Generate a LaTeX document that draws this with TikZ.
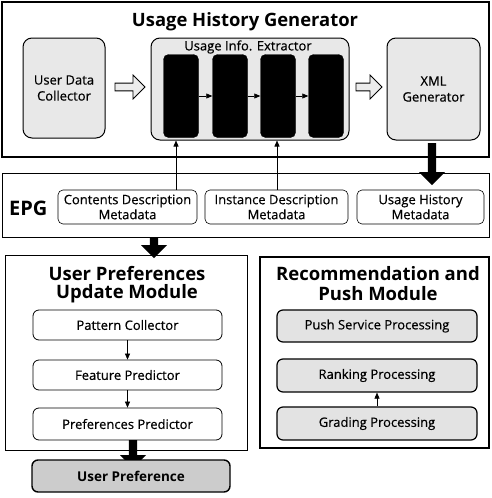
\documentclass[tikz,border=0pt]{standalone}
\usepackage{fontspec}
\setmainfont{Open Sans}
\newfontfamily\lblfont[FakeBold=0.5]{Open Sans}
\usetikzlibrary{shapes.arrows,arrows.meta}

\begin{document}
\begin{tikzpicture}[x=1pt,y=1pt,
  frame/.style={draw,line width=1.3pt,minimum width=#1,inner sep=0pt},
  blk/.style={draw,rounded corners=9pt,line width=1pt,fill=gray!18,align=center,
    font=\lblfont\fontsize{13}{16}\selectfont,inner sep=0pt},
  meta/.style={draw,rounded corners=5pt,line width=0.6pt,align=center,
    font=\lblfont\fontsize{13}{15}\selectfont,inner sep=0pt},
  proc/.style={draw,rounded corners=6pt,line width=0.8pt,
    font=\lblfont\fontsize{13}{15}\selectfont,inner sep=0pt},
  bar/.style={draw,fill=black,rounded corners=5pt,minimum width=35pt,minimum height=83pt},
  ttl/.style={font=\bfseries\fontsize{#1}{#1}\selectfont,inner sep=0pt},
  hollow/.style={single arrow,draw,line width=0.8pt,fill=gray!15,minimum height=#1,
    minimum width=24pt,single arrow head extend=5pt,inner sep=2pt},
  fat/.style={single arrow,fill=black,minimum height=#1,minimum width=26pt,
    single arrow head extend=7pt,inner sep=3pt,shape border rotate=270},
  thin/.style={-{Triangle[length=6pt,width=5pt]},line width=0.6pt}]
\useasboundingbox (0,0) rectangle (491,-498);

% usage history generator
\node[frame=487pt,minimum height=155pt] (ugen) at (245.5,-79.5) {};
\node[ttl=18.4] (ugent) at (245,-22) {Usage History Generator};
\node[blk,minimum width=82pt,minimum height=100pt] (udc) at (64,-88) {User Data\\Collector};
\node[blk,minimum width=198pt,minimum height=102pt] (uie) at (250,-89) {};
\node[font=\lblfont\fontsize{13}{15}\selectfont] (uiet) at (248,-47) {Usage Info. Extractor};
\node[blk,minimum width=93pt,minimum height=102pt] (xml) at (433.5,-89) {XML\\Generator};
\foreach \i/\x in {1/181,2/230,3/278,4/326}
  \node[bar] (b\i) at (\x,-96) {};
\draw[thin] (b1) -- (b2);
\draw[thin] (b2) -- (b3);
\draw[thin] (b3) -- (b4);
\node[hollow=30pt] (h1) at (128,-87) {};
\node[hollow=26pt] (h2) at (367,-87) {};

% EPG
\node[frame=487pt,minimum height=64pt,line width=0.8pt] (epg) at (245.5,-205) {};
\node[ttl=20,anchor=west] (epgt) at (9,-208) {EPG};
\node[meta,minimum width=139pt,minimum height=34pt] (cdm) at (127.5,-207) {Contents Description\\Metadata};
\node[meta,minimum width=143pt,minimum height=34pt] (idm) at (276.5,-207) {Instance Description\\Metadata};
\node[meta,minimum width=127pt,minimum height=34pt] (uhm) at (420.5,-207) {Usage History\\Metadata};
\draw[thin] (cdm.north -| 176,0) -- (uie.south -| 176,0);
\draw[thin] (idm.north -| 277,0) -- (uie.south -| 277,0);
\node[fat=42pt] (a1) at (432,-162) {};

% user preferences update module
\node[frame=242pt,minimum height=195pt,line width=0.8pt] (upm) at (126,-352.5) {};
\node[ttl=18.5] (upmt1) at (127,-274) {User Preferences};
\node[ttl=18.5] (upmt2) at (127,-294) {Update Module};
\node[proc,minimum width=189pt,minimum height=30pt] (pc) at (127.5,-325) {Pattern Collector};
\node[proc,minimum width=189pt,minimum height=30pt] (fp) at (127.5,-375) {Feature Predictor};
\node[proc,minimum width=189pt,minimum height=32pt] (pp) at (127.5,-424) {Preferences Predictor};
\draw[thin] (pc) -- (fp);
\draw[thin] (fp) -- (pp);
\node[fat=20pt] (a2) at (154,-246) {};
\node[fat=28pt] (a3) at (133,-452) {};
\node[proc,line width=1.4pt,fill=gray!40,minimum width=198pt,minimum height=32pt,
  font=\bfseries\fontsize{13.5}{15}\selectfont] (up) at (131,-476) {User Preference};

% recommendation and push module
\node[frame=229pt,minimum height=191pt] (rpm) at (374.5,-352.5) {};
\node[ttl=18.5] (rpmt1) at (378,-274) {Recommendation and};
\node[ttl=18.5] (rpmt2) at (378,-294) {Push Module};
\node[proc,line width=1.2pt,fill=gray!22,minimum width=200pt,minimum height=32pt] (psp) at (377,-326) {Push Service Processing};
\node[proc,line width=1.2pt,fill=gray!22,minimum width=200pt,minimum height=33pt] (rp) at (377,-375.5) {Ranking Processing};
\node[proc,line width=1.2pt,fill=gray!22,minimum width=200pt,minimum height=33pt] (gp) at (377,-423.5) {Grading Processing};
\draw[thin] (gp) -- (rp);
\end{tikzpicture}
\end{document}
